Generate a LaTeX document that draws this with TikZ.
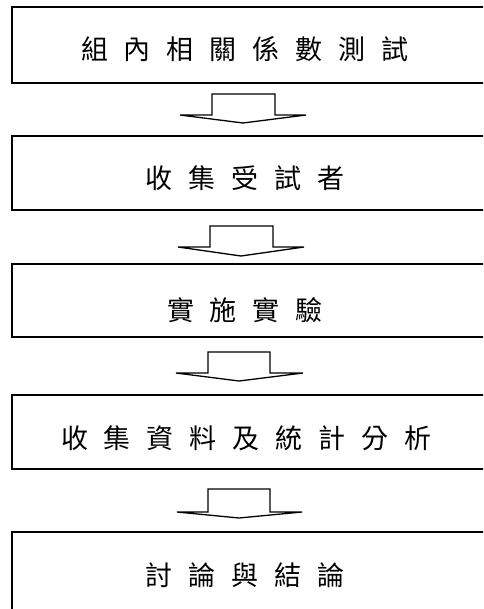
\documentclass[tikz,border=0pt]{standalone}
\usepackage{fontspec}
\newfontfamily\cjk{Noto Sans CJK TC}
\newcommand\zch[1]{\makebox[43pt]{#1}}
\tikzset{
  flowbox/.style={draw=black, line width=1.6pt, rectangle, minimum width=488pt, inner sep=0pt},
  flowtext/.style={inner sep=0pt, font=\cjk\fontsize{27}{27}\selectfont, text height=24pt, text depth=2pt},
  blockarrow/.style={draw=black, line width=1.3pt, fill=white, line join=miter}
}
\begin{document}
\begin{tikzpicture}[x=1pt,y=-1pt]
\clip (0,0) rectangle (483,609);
\useasboundingbox (0,0) rectangle (483,609);
\fill[white] (0,0) rectangle (483,609);
% boxes
\node[flowbox, minimum height=76pt] (b1) at (256,45) {};
\node[flowbox, minimum height=74pt] (b2) at (256,173) {};
\node[flowbox, minimum height=73pt] (b3) at (256,300.5) {};
\node[flowbox, minimum height=74pt] (b4) at (256,432) {};
\node[flowbox, minimum height=88pt] (b5) at (256,576) {};
% texts
\node[flowtext] (t1) at (245,48.5) {\zch{組}\zch{內}\zch{相}\zch{關}\zch{係}\zch{數}\zch{測}\zch{試}};
\node[flowtext] (t2) at (245,178) {\zch{收}\zch{集}\zch{受}\zch{試}\zch{者}};
\node[flowtext] (t3) at (245,309.5) {\zch{實}\zch{施}\zch{實}\zch{驗}};
\node[flowtext] (t4) at (246.5,437.5) {\zch{收}\zch{集}\zch{資}\zch{料}\zch{及}\zch{統}\zch{計}\zch{分}\zch{析}};
\node[flowtext] (t5) at (245,574) {\zch{討}\zch{論}\zch{與}\zch{結}\zch{論}};
% block arrows: stem top y, bar y, tip y, centre x
\coordinate (a1) at (243,94);
\coordinate (a2) at (241,226);
\coordinate (a3) at (239,352);
\coordinate (a4) at (239,489);
\draw[blockarrow] ([xshift=-63pt,yshift=-21pt]a1) -- ([xshift=-31pt,yshift=-21pt]a1) -- ([xshift=-31pt]a1) -- ([xshift=32pt]a1) -- ([xshift=32pt,yshift=-21pt]a1) -- ([xshift=63pt,yshift=-21pt]a1) -- ([yshift=-29pt]a1) -- cycle;
\draw[blockarrow] ([xshift=-63pt,yshift=-21pt]a2) -- ([xshift=-31pt,yshift=-21pt]a2) -- ([xshift=-31pt]a2) -- ([xshift=32pt]a2) -- ([xshift=32pt,yshift=-21pt]a2) -- ([xshift=63pt,yshift=-21pt]a2) -- ([yshift=-30pt]a2) -- cycle;
\draw[blockarrow] ([xshift=-63pt,yshift=-21pt]a3) -- ([xshift=-31pt,yshift=-21pt]a3) -- ([xshift=-31pt]a3) -- ([xshift=31pt]a3) -- ([xshift=31pt,yshift=-21pt]a3) -- ([xshift=64pt,yshift=-21pt]a3) -- ([yshift=-29pt]a3) -- cycle;
\draw[blockarrow] ([xshift=-62pt,yshift=-23pt]a4) -- ([xshift=-31pt,yshift=-23pt]a4) -- ([xshift=-31pt]a4) -- ([xshift=31pt]a4) -- ([xshift=31pt,yshift=-23pt]a4) -- ([xshift=63pt,yshift=-23pt]a4) -- ([yshift=-29pt]a4) -- cycle;
\end{tikzpicture}
\end{document}
